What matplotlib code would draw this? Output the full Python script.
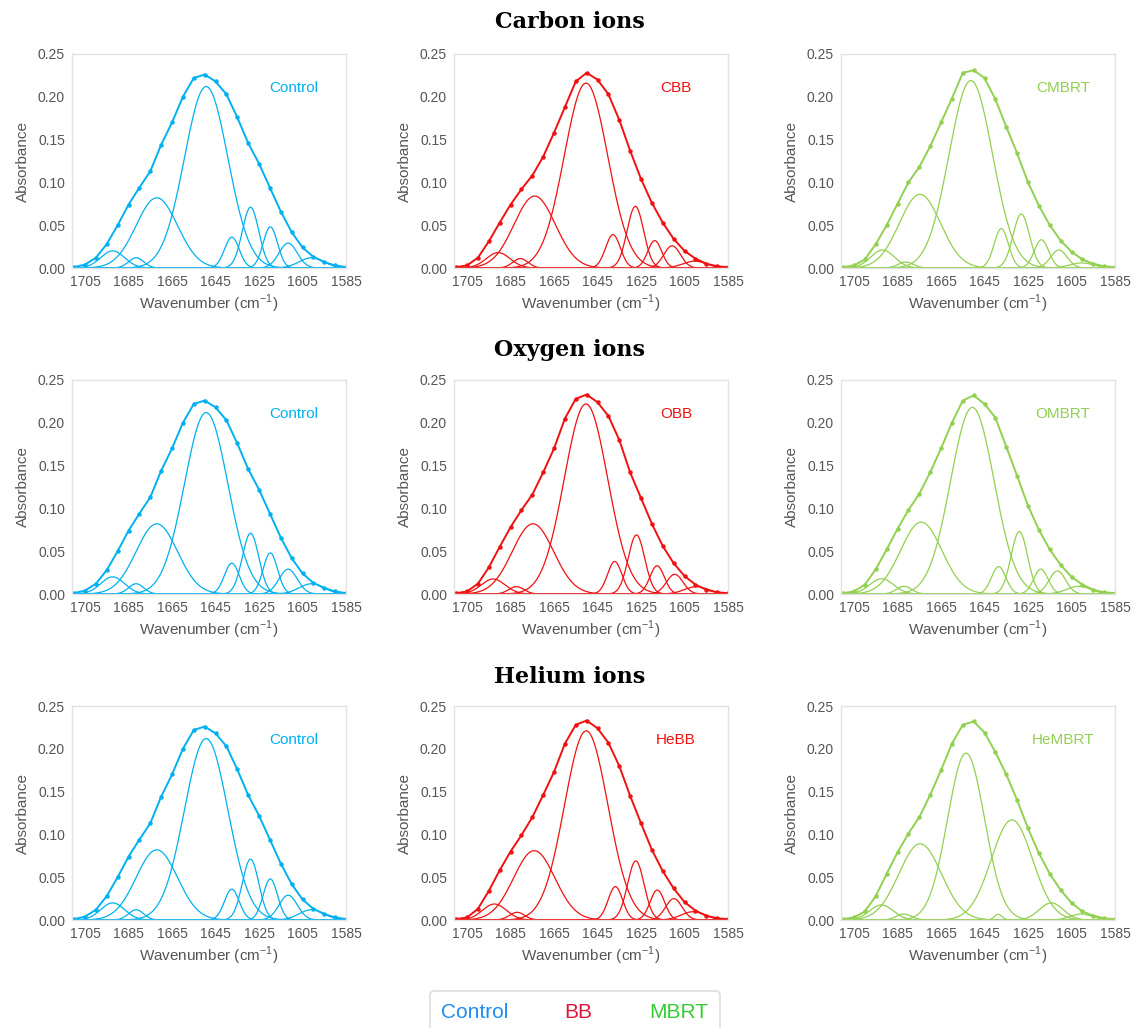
import numpy as np
import matplotlib.pyplot as plt
from matplotlib.patches import FancyBboxPatch

plt.rcParams['font.family'] = ['Liberation Sans', 'DejaVu Sans']
plt.rcParams['mathtext.fontset'] = 'custom'
plt.rcParams['mathtext.rm'] = 'Liberation Sans'

#------------------ measured amide I spectra (every 5 cm-1) ------------------
wavenumber = [1710, 1705, 1700, 1695, 1690, 1685, 1680, 1675, 1670, 1665, 1660, 1655, 1650,
              1645, 1640, 1635, 1630, 1625, 1620, 1615, 1610, 1605, 1600, 1595, 1590, 1585]

ctrl_spec = [0.001, 0.004, 0.012, 0.028, 0.050, 0.074, 0.094, 0.113, 0.144, 0.170, 0.200, 0.222, 0.226,
             0.218, 0.203, 0.176, 0.146, 0.122, 0.094, 0.066, 0.042, 0.024, 0.013, 0.007, 0.003, 0.001]
cbb_spec = [0.001, 0.003, 0.012, 0.031, 0.053, 0.074, 0.092, 0.108, 0.130, 0.158, 0.188, 0.218, 0.228,
            0.220, 0.203, 0.173, 0.137, 0.104, 0.076, 0.053, 0.034, 0.020, 0.011, 0.005, 0.002, 0.001]
cmbrt_spec = [0.001, 0.003, 0.010, 0.028, 0.050, 0.075, 0.100, 0.118, 0.142, 0.170, 0.198, 0.228, 0.231,
              0.222, 0.197, 0.165, 0.134, 0.100, 0.073, 0.050, 0.032, 0.019, 0.010, 0.005, 0.002, 0.001]
obb_spec = [0.001, 0.003, 0.012, 0.031, 0.055, 0.078, 0.098, 0.116, 0.142, 0.170, 0.205, 0.228, 0.233,
            0.224, 0.208, 0.180, 0.142, 0.112, 0.082, 0.056, 0.036, 0.021, 0.011, 0.005, 0.002, 0.001]
ombrt_spec = [0.001, 0.003, 0.011, 0.029, 0.052, 0.076, 0.098, 0.117, 0.142, 0.170, 0.200, 0.226, 0.232,
              0.222, 0.206, 0.172, 0.138, 0.103, 0.075, 0.052, 0.034, 0.020, 0.011, 0.005, 0.002, 0.001]
hebb_spec = [0.001, 0.003, 0.013, 0.034, 0.058, 0.080, 0.099, 0.120, 0.146, 0.173, 0.206, 0.228, 0.233,
             0.224, 0.207, 0.180, 0.145, 0.113, 0.082, 0.057, 0.037, 0.021, 0.011, 0.005, 0.002, 0.001]
hembrt_spec = [0.001, 0.003, 0.010, 0.028, 0.054, 0.079, 0.101, 0.120, 0.146, 0.175, 0.206, 0.228, 0.232,
               0.219, 0.196, 0.170, 0.140, 0.107, 0.078, 0.054, 0.035, 0.020, 0.010, 0.005, 0.002, 0.001]

#------------------ fitted band components (centre, height, sigma) -----------
ctrl_pos = [1692.3, 1681.5, 1672.0, 1649.3, 1637.5, 1628.9, 1619.8, 1611.6, 1600.8]
ctrl_amp = [0.020, 0.012, 0.082, 0.212, 0.036, 0.071, 0.048, 0.029, 0.012]
ctrl_sig = [5.5, 3.5, 9.5, 10.0, 3.4, 3.8, 3.3, 4.2, 5.7]

cbb_pos = [1690.7, 1680.5, 1673.9, 1650.3, 1637.9, 1627.6, 1618.7, 1610.7, 1600.3]
cbb_amp = [0.018, 0.011, 0.084, 0.216, 0.039, 0.072, 0.032, 0.026, 0.008]
cbb_sig = [5.5, 3.5, 9.5, 10.0, 3.4, 3.8, 3.2, 3.8, 5.5]

cmbrt_pos = [1691.9, 1681.2, 1674.7, 1651.3, 1637.3, 1628.1, 1618.8, 1610.8, 1600.4]
cmbrt_amp = [0.021, 0.007, 0.086, 0.219, 0.046, 0.063, 0.033, 0.021, 0.006]
cmbrt_sig = [5.5, 3.5, 9.5, 10.0, 3.3, 3.8, 3.3, 3.8, 5.5]

obb_pos = [1693.0, 1682.3, 1674.7, 1650.3, 1637.1, 1627.1, 1617.6, 1609.5, 1599.5]
obb_amp = [0.0175, 0.0086, 0.082, 0.222, 0.038, 0.069, 0.033, 0.023, 0.0086]
obb_sig = [5.5, 3.5, 9.5, 10.0, 3.3, 3.8, 3.3, 3.8, 5.5]

ombrt_pos = [1692.3, 1682.0, 1674.1, 1650.6, 1638.5, 1629.0, 1619.1, 1611.5, 1601.7]
ombrt_amp = [0.0178, 0.009, 0.084, 0.218, 0.032, 0.073, 0.029, 0.027, 0.009]
ombrt_sig = [5.5, 3.5, 9.5, 10.0, 3.3, 3.8, 3.3, 3.8, 5.5]

hebb_pos = [1692.4, 1682.0, 1674.1, 1650.2, 1636.8, 1627.4, 1617.5, 1609.9, 1601.0]
hebb_amp = [0.0187, 0.009, 0.081, 0.221, 0.039, 0.069, 0.035, 0.025, 0.0097]
hebb_sig = [5.5, 3.5, 9.5, 10.0, 3.3, 3.8, 3.3, 3.8, 5.5]

hembrt_pos = [1692.4, 1682.1, 1674.6, 1653.5, 1638.7, 1632.4, 1614.3, 1600.5]
hembrt_amp = [0.0175, 0.007, 0.089, 0.195, 0.0066, 0.117, 0.020, 0.007]
hembrt_sig = [5.5, 3.5, 9.8, 8.5, 1.8, 9.5, 5.5, 5.0]

row_titles = ['Carbon ions', 'Oxygen ions', 'Helium ions']
panel_names = [['Control', 'CBB', 'CMBRT'],
               ['Control', 'OBB', 'OMBRT'],
               ['Control', 'HeBB', 'HeMBRT']]
spectra = [[ctrl_spec, cbb_spec, cmbrt_spec],
           [ctrl_spec, obb_spec, ombrt_spec],
           [ctrl_spec, hebb_spec, hembrt_spec]]
bands = [[(ctrl_pos, ctrl_amp, ctrl_sig), (cbb_pos, cbb_amp, cbb_sig), (cmbrt_pos, cmbrt_amp, cmbrt_sig)],
         [(ctrl_pos, ctrl_amp, ctrl_sig), (obb_pos, obb_amp, obb_sig), (ombrt_pos, ombrt_amp, ombrt_sig)],
         [(ctrl_pos, ctrl_amp, ctrl_sig), (hebb_pos, hebb_amp, hebb_sig), (hembrt_pos, hembrt_amp, hembrt_sig)]]
col_colors = ['#00B0F0', '#F01010', '#92D050']

legend_labels = ['Control', 'BB', 'MBRT']
legend_colors = ['#1E8CF0', '#E0143C', '#33CC33']

#------------------ layout -------------------------------------------------
W, H = 1140, 1028
fig = plt.figure(figsize=(W / 100, H / 100), dpi=100)
col_left = [72, 454, 841]
row_top = [54, 380, 706]
ax_w, ax_h = 274, 214
title_y = [22, 350, 677]

xfine = np.linspace(1711, 1585, 500)

for r in range(3):
    fig.text(570 / W, 1 - title_y[r] / H, row_titles[r], ha='center', va='center',
             family='DejaVu Serif', fontweight='bold', fontsize=16)
    for c in range(3):
        ax = fig.add_axes([col_left[c] / W, 1 - (row_top[r] + ax_h) / H, ax_w / W, ax_h / H])
        colr = col_colors[c]
        pos, amp, sig = bands[r][c]
        for p, a, s in zip(pos, amp, sig):
            ax.plot(xfine, a * np.exp(-(xfine - p) ** 2 / (2 * s ** 2)), color=colr, lw=0.9)
        ax.plot(wavenumber, spectra[r][c], color=colr, lw=1.4, marker='o', ms=2.2)

        ax.set_xlim(1711, 1585)
        ax.set_ylim(0, 0.25)
        ax.set_xticks(range(1705, 1584, -20))
        ax.set_yticks([0, 0.05, 0.10, 0.15, 0.20, 0.25])
        ax.set_yticklabels(['%.2f' % v for v in [0, 0.05, 0.10, 0.15, 0.20, 0.25]])
        ax.tick_params(length=0, labelsize=10, labelcolor='#555555', pad=5)
        for sp in ax.spines.values():
            sp.set_color('#e2e2e2')
            sp.set_linewidth(1.0)
        ax.set_xlabel('Wavenumber (cm$^{-1}$)', fontsize=11, color='#555555', labelpad=3)
        ax.set_ylabel('Absorbance', fontsize=11, color='#555555', labelpad=6)
        ax.text(0.81, 0.84, panel_names[r][c], transform=ax.transAxes, color=colr,
                fontsize=11, ha='center', va='center')

# legend box at the bottom
box = FancyBboxPatch((430 / W, -10 / H), 290 / W, 47 / H, transform=fig.transFigure,
                     boxstyle='round,pad=0,rounding_size=0.004', fc='white', ec='#dddddd', lw=1.2)
fig.patches.append(box)
leg_x = [475, 578, 679]
for lx, lab, lc in zip(leg_x, legend_labels, legend_colors):
    fig.text(lx / W, 1 - 1013 / H, lab, color=lc, fontsize=15, ha='center', va='center')

fig.savefig('out.png', dpi=100)
